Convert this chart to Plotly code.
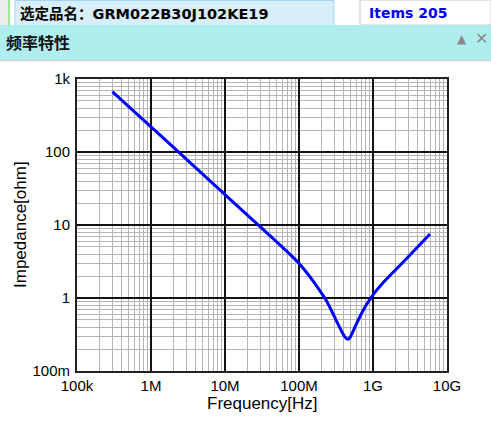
import plotly.graph_objects as go

# ---- data ----
freq_hz = [3.0e5, 1e6, 3e6, 1e7, 3e7, 6e7, 1e8, 1.205e8, 1.5e8, 1.862e8, 2.244e8,
           2.704e8, 3.26e8, 3.81e8, 4.19e8, 4.55e8, 4.89e8, 5.71e8, 6.47e8, 7.4e8,
           8.43e8, 9.55e8, 1.1e9, 1.32e9, 1.86e9, 3.16e9, 5.89e9]
impedance_ohm = [670, 221, 80, 26.1, 9.4, 4.95, 3.0, 2.38, 1.79, 1.31, 0.99,
                 0.695, 0.469, 0.342, 0.292, 0.272, 0.288, 0.401, 0.524, 0.685,
                 0.855, 1.03, 1.25, 1.56, 2.23, 3.88, 7.53]

x_tickvals = [1e5, 1e6, 1e7, 1e8, 1e9, 1e10]
x_ticktext = ["100k", "1M", "10M", "100M", "1G", "10G"]
y_tickvals = [0.1, 1, 10, 100, 1000]
y_ticktext = ["100m", "1", "10", "100", "1k"]

part_label = "选定品名：GRM022B30J102KE19"
items_label = "Items 205"
panel_title = "频率特性"
x_title = "Frequency[Hz]"
y_title = "Impedance[ohm]"

W, H = 491, 434
L, R, T, B = 77, 447, 79, 371  # plot area in pixels


def px(x):
    return (x - L) / (R - L)


def py(y):
    return (B - y) / (B - T)


fig = go.Figure()
fig.add_trace(go.Scatter(
    x=freq_hz, y=impedance_ohm, mode="lines",
    line=dict(color="#0000ff", width=3, shape="spline", smoothing=0.5),
    hoverinfo="skip", showlegend=False))

tick_font = dict(family="Liberation Sans, Arial, sans-serif", size=15, color="#000")

fig.update_xaxes(
    type="log", range=[5, 10], tickvals=x_tickvals, ticktext=x_ticktext,
    showgrid=True, gridcolor="#111", gridwidth=2,
    minor=dict(showgrid=True, gridcolor="#b4b4b4", gridwidth=1, dtick="D1"),
    showline=True, linecolor="#222", linewidth=2, mirror=True,
    ticks="", ticklabelstandoff=0, tickfont=tick_font, zeroline=False, fixedrange=True)
fig.update_yaxes(
    type="log", range=[-1, 3], tickvals=y_tickvals, ticktext=y_ticktext,
    showgrid=True, gridcolor="#111", gridwidth=1.5,
    minor=dict(showgrid=True, gridcolor="#b4b4b4", gridwidth=1, dtick="D1"),
    showline=True, linecolor="#222", linewidth=2, mirror=True,
    ticks="", ticklabelstandoff=2, tickfont=tick_font, zeroline=False, fixedrange=True)

shapes = []
annotations = []

# header: left strip and green marker
shapes.append(dict(type="rect", xref="paper", yref="paper", x0=px(0), x1=px(8), y0=py(25), y1=py(0),
                   fillcolor="#eeeeee", line=dict(width=0), layer="above"))
shapes.append(dict(type="rect", xref="paper", yref="paper", x0=px(8), x1=px(10), y0=py(25), y1=py(0),
                   fillcolor="#9de89d", line=dict(width=0), layer="above"))
# part tab
shapes.append(dict(type="rect", xref="paper", yref="paper", x0=px(15), x1=px(334), y0=py(26), y1=py(0.5),
                   fillcolor="#d8eefb", line=dict(color="#a3d5f3", width=1), layer="above"))
# items box
shapes.append(dict(type="rect", xref="paper", yref="paper", x0=px(360), x1=px(491), y0=py(25), y1=py(0),
                   fillcolor="#ffffff", line=dict(color="#cccccc", width=1), layer="above"))
# title bar
shapes.append(dict(type="rect", xref="paper", yref="paper", x0=px(0), x1=px(491), y0=py(60), y1=py(25),
                   fillcolor="#afeeee", line=dict(width=0), layer="above"))
shapes.append(dict(type="line", xref="paper", yref="paper", x0=px(0), x1=px(491), y0=py(60.5), y1=py(60.5),
                   line=dict(color="#cfcfcf", width=1), layer="above"))

hdr_font = dict(family="DejaVu Sans, Noto Sans CJK SC, sans-serif", size=14.5, color="#000")
annotations.append(dict(text="<b>" + part_label + "</b>", xref="paper", yref="paper",
                        x=px(18), y=py(13), xanchor="left", yanchor="middle",
                        showarrow=False, font=hdr_font))
annotations.append(dict(text="<b>" + items_label + "</b>", xref="paper", yref="paper",
                        x=px(367), y=py(13), xanchor="left", yanchor="middle",
                        showarrow=False, font=dict(family="DejaVu Sans, sans-serif", size=14, color="#0000ee")))
annotations.append(dict(text="<b>" + panel_title + "</b>", xref="paper", yref="paper",
                        x=px(4), y=py(42), xanchor="left", yanchor="middle",
                        showarrow=False, font=dict(family="Noto Sans CJK SC, sans-serif", size=16, color="#111")))
annotations.append(dict(text="▲", xref="paper", yref="paper", x=px(462), y=py(39),
                        xanchor="center", yanchor="middle", showarrow=False,
                        font=dict(family="DejaVu Sans, sans-serif", size=12, color="#8a8a8a")))
annotations.append(dict(text="<b>✕</b>", xref="paper", yref="paper", x=px(482), y=py(39),
                        xanchor="center", yanchor="middle", showarrow=False,
                        font=dict(family="DejaVu Sans, sans-serif", size=16, color="#8a8a8a")))

axis_title_font = dict(family="Liberation Sans, Arial, sans-serif", size=17, color="#000")
annotations.append(dict(text=x_title, xref="paper", yref="paper", x=px(262), y=py(403),
                        xanchor="center", yanchor="middle", showarrow=False, font=axis_title_font))
annotations.append(dict(text=y_title, xref="paper", yref="paper", x=px(20), y=py(225),
                        xanchor="center", yanchor="middle", textangle=-90, showarrow=False,
                        font=axis_title_font))

fig.update_layout(
    width=W, height=H, autosize=False,
    margin=dict(l=L, r=W - R, t=T, b=H - B, pad=0),
    paper_bgcolor="#ffffff", plot_bgcolor="#ffffff",
    shapes=shapes, annotations=annotations, showlegend=False)

fig.write_html(
    "out.html", config={"displayModeBar": False},
    post_script="document.body.style.margin='0';document.body.style.padding='0';"
                "document.body.style.overflow='hidden';")
